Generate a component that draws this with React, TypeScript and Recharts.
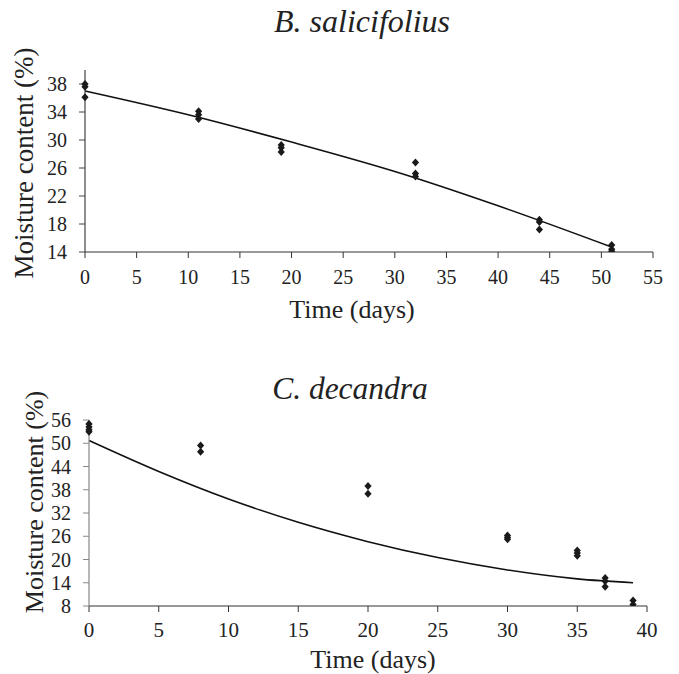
import React from "react";
import { ComposedChart, Scatter, Line, XAxis, YAxis } from "recharts";

// B. salicifolius: measured moisture content (%) by day
const bsDays = [0, 0, 0, 11, 11, 11, 19, 19, 19, 32, 32, 32, 44, 44, 44, 51, 51, 51];
const bsMoisture = [38.0, 37.6, 36.1, 34.1, 33.6, 33.0, 29.3, 28.9, 28.3, 26.8, 25.2, 24.8, 18.6, 18.3, 17.2, 15.0, 14.4, 14.1];
// fitted curve
const bsFitDays = [0, 10, 20, 30, 40, 51];
const bsFit = [37.0, 33.6, 29.7, 25.5, 20.6, 14.7];
const bsXTicks = [0, 5, 10, 15, 20, 25, 30, 35, 40, 45, 50, 55];
const bsYTicks = [14, 18, 22, 26, 30, 34, 38];

// C. decandra
const cdDays = [0, 0, 0, 0, 8, 8, 20, 20, 30, 30, 30, 35, 35, 35, 37, 37, 37, 39, 39];
const cdMoisture = [55.0, 54.2, 53.5, 53.0, 49.4, 47.8, 39.0, 37.0, 26.2, 25.7, 25.2, 22.3, 21.7, 21.0, 15.2, 14.4, 13.0, 9.4, 8.4];
const cdFitDays = [0, 5, 10, 15, 20, 25, 30, 35, 39];
const cdFit = [50.7, 42.7, 35.6, 29.6, 24.6, 20.5, 17.3, 15.0, 14.0];
const cdXTicks = [0, 5, 10, 15, 20, 25, 30, 35, 40];
const cdYTicks = [8, 14, 20, 26, 32, 38, 44, 50, 56];

const FONT = "Liberation Serif";

const toPoints = (xs: number[], ys: number[]) => xs.map((d, i) => ({ day: d, moisture: ys[i] }));

const Diamond = (props: any) => {
  const { cx, cy } = props;
  if (cx == null || cy == null) return null;
  return (
    <path
      d={`M${cx},${cy - 4} L${cx + 3.6},${cy} L${cx},${cy + 4} L${cx - 3.6},${cy} Z`}
      fill="#1a1a1a"
    />
  );
};

function Panel(props: {
  width: number;
  height: number;
  margin: any;
  yWidth: number;
  points: any[];
  curve: any[];
  xDomain: number[];
  yDomain: number[];
  xTicks: number[];
  yTicks: number[];
  yAxisColor: string;
  xFont: number;
  yFont: number;
  xTickMargin: number;
}) {
  return (
    <ComposedChart width={props.width} height={props.height} margin={props.margin}>
      <XAxis
        dataKey="day"
        type="number"
        domain={props.xDomain}
        ticks={props.xTicks}
        interval={0}
        height={40}
        tickSize={6}
        tickMargin={props.xTickMargin}
        axisLine={{ stroke: "#333", strokeWidth: 1.2 }}
        tickLine={{ stroke: "#333" }}
        tick={{ fill: "#222", fontSize: props.xFont, style: { fontFamily: FONT } }}
        allowDecimals={false}
      />
      <YAxis
        dataKey="moisture"
        type="number"
        domain={props.yDomain}
        ticks={props.yTicks}
        interval={0}
        width={props.yWidth}
        tickSize={6}
        tickMargin={12}
        axisLine={{ stroke: props.yAxisColor, strokeWidth: 1.2 }}
        tickLine={{ stroke: props.yAxisColor }}
        tick={{ fill: "#222", fontSize: props.yFont, style: { fontFamily: FONT } }}
        allowDataOverflow
      />
      <Line
        data={props.curve}
        dataKey="moisture"
        type="monotone"
        stroke="#111"
        strokeWidth={1.6}
        dot={false}
        isAnimationActive={false}
      />
      <Scatter data={props.points} dataKey="moisture" shape={Diamond} isAnimationActive={false} />
    </ComposedChart>
  );
}

export default function App() {
  return (
    <div
      style={{
        position: "absolute",
        left: 0,
        top: 0,
        width: 679,
        height: 674,
        background: "#fff",
        fontFamily: FONT,
      }}
    >
      <div style={{ position: "absolute", left: 0, top: 0 }}>
        <Panel
          width={679}
          height={340}
          margin={{ top: 70, right: 26, bottom: 48, left: 0 }}
          yWidth={85}
          points={toPoints(bsDays, bsMoisture)}
          curve={toPoints(bsFitDays, bsFit)}
          xDomain={[0, 55]}
          yDomain={[14, 40]}
          xTicks={bsXTicks}
          yTicks={bsYTicks}
          yAxisColor="#444"
          xFont={20}
          yFont={20}
          xTickMargin={12}
        />
      </div>
      <div style={{ position: "absolute", left: 0, top: 340 }}>
        <Panel
          width={679}
          height={334}
          margin={{ top: 80, right: 32, bottom: 28, left: 0 }}
          yWidth={89}
          points={toPoints(cdDays, cdMoisture)}
          curve={toPoints(cdFitDays, cdFit)}
          xDomain={[0, 40]}
          yDomain={[8, 56]}
          xTicks={cdXTicks}
          yTicks={cdYTicks}
          yAxisColor="#888"
          xFont={21}
          yFont={20}
          xTickMargin={10}
        />
      </div>
      <svg
        width={679}
        height={674}
        style={{ position: "absolute", left: 0, top: 0, pointerEvents: "none", fontFamily: FONT }}
        fill="#222"
      >
        <text x={362} y={32} fontSize={32} fontStyle="italic" textAnchor="middle">
          B. salicifolius
        </text>
        <text x={350} y={399} fontSize={31.5} fontStyle="italic" textAnchor="middle">
          C. decandra
        </text>
        <text x={352} y={318} fontSize={26} textAnchor="middle">
          Time (days)
        </text>
        <text x={373} y={668} fontSize={26} textAnchor="middle">
          Time (days)
        </text>
        <text transform="translate(33,163) rotate(-90)" fontSize={27} textAnchor="middle">
          Moisture content (%)
        </text>
        <text transform="translate(43,502) rotate(-90)" fontSize={26} textAnchor="middle">
          Moisture content (%)
        </text>
      </svg>
    </div>
  );
}
